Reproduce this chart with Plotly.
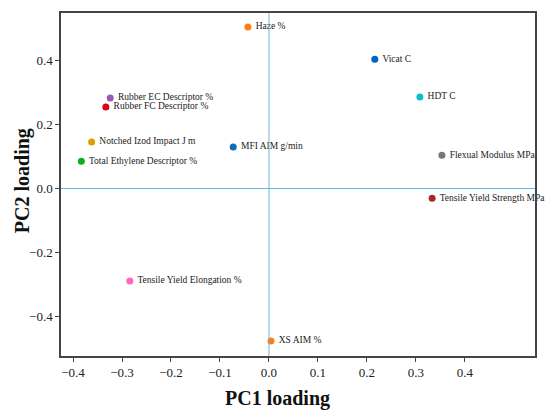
import plotly.graph_objects as go

# PCA loadings
variables = [
    "Haze %", "Vicat C", "HDT C", "Rubber EC Descriptor %",
    "Rubber FC Descriptor %", "Notched Izod Impact J m",
    "MFI AIM g/min", "Total Ethylene Descriptor %",
    "Flexual Modulus MPa", "Tensile Yield Strength MPa",
    "Tensile Yield Elongation %", "XS AIM %",
]
pc1 = [-0.043, 0.216, 0.308, -0.324, -0.333, -0.362,
       -0.073, -0.383, 0.353, 0.333, -0.284, 0.004]
pc2 = [0.503, 0.403, 0.285, 0.282, 0.254, 0.145,
       0.129, 0.085, 0.104, -0.030, -0.288, -0.475]
colors = ["#ff7f0e", "#0062c4", "#12bcd0", "#9b59b6",
          "#e00018", "#d9a000", "#0a6fb8", "#08b020",
          "#777777", "#a52a2a", "#ff66c4", "#ff7f0e"]

x_ticks = [-0.4, -0.3, -0.2, -0.1, 0.0, 0.1, 0.2, 0.3, 0.4]
y_ticks = [-0.4, -0.2, 0.0, 0.2, 0.4]

FONT = "Liberation Serif, DejaVu Serif, serif"

fig = go.Figure()

for name, x, y, c in zip(variables, pc1, pc2, colors):
    fig.add_trace(go.Scatter(
        x=[x], y=[y],
        mode="markers+text",
        marker=dict(color=c, size=7),
        text=[" " + name],
        textposition="middle right",
        textfont=dict(family=FONT, size=9.5, color="#222222"),
        showlegend=False,
        cliponaxis=False,
    ))

# reference lines through the origin
fig.add_hline(y=0, line=dict(color="#6cb4e4", width=1))
fig.add_vline(x=0, line=dict(color="#6cb4e4", width=1))

axis_common = dict(
    showgrid=False,
    zeroline=False,
    showline=True,
    linecolor="#444444",
    linewidth=1.5,
    mirror=True,
    ticks="outside",
    ticklen=4,
    tickcolor="#444444",
    automargin=False,
    tickfont=dict(family=FONT, size=13, color="#222222"),
)

title_font = dict(family=FONT, size=20, color="#111111")

fig.update_layout(
    width=550, height=410,
    paper_bgcolor="white",
    plot_bgcolor="white",
    margin=dict(l=61, r=15, t=13, b=54),
    xaxis=dict(range=[-0.4245, 0.543], tickvals=x_ticks,
               tickformat=".1f", **axis_common),
    yaxis=dict(range=[-0.522, 0.547], tickvals=y_ticks,
               tickformat=".1f", **axis_common),
    annotations=[
        dict(text="<b>PC1 loading</b>",
             xref="paper", yref="paper",
             x=0.456, y=-0.085,
             xanchor="center", yanchor="top",
             showarrow=False, font=title_font),
        dict(text="<b>PC2 loading</b>",
             xref="paper", yref="paper",
             x=-0.082, y=0.51, textangle=-90,
             xanchor="center", yanchor="middle",
             showarrow=False, font=title_font),
    ],
)

fig.write_html("out.html", config={"displayModeBar": False},
               post_script="document.body.style.margin='0';")
